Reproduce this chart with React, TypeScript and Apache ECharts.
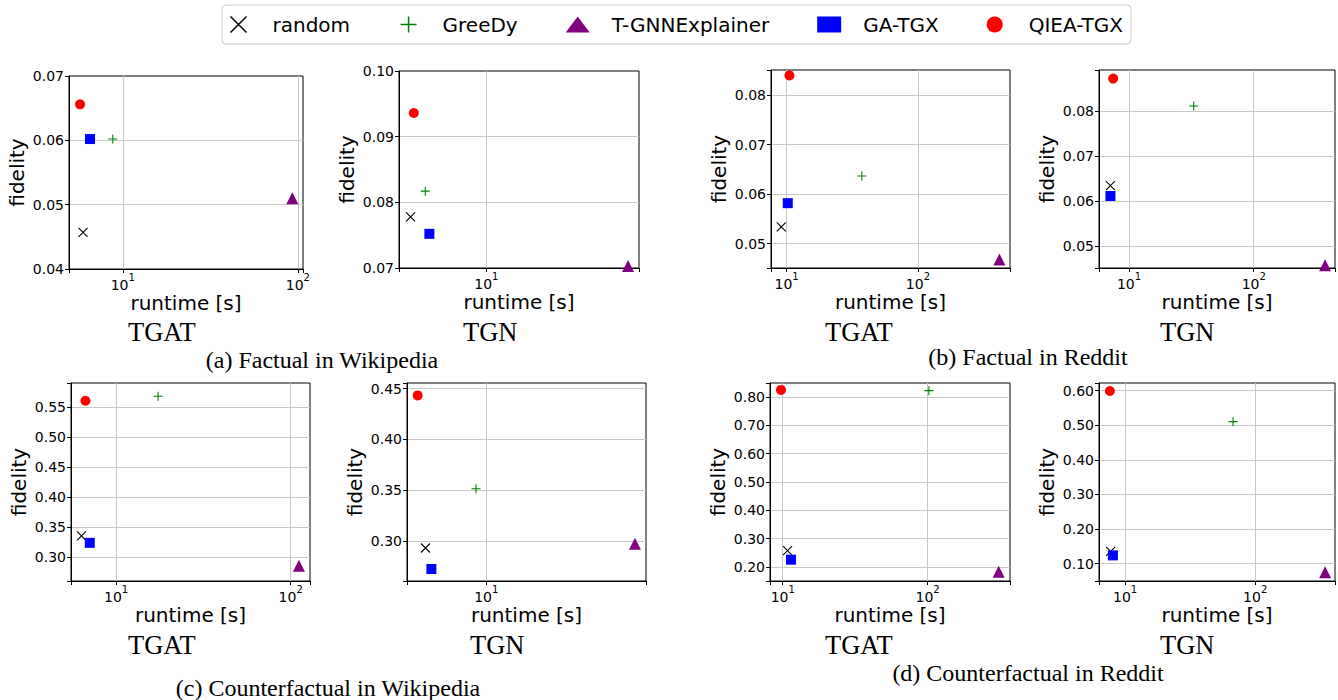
import React, { useEffect, useRef } from 'react';
import * as echarts from 'echarts';

// ---------- data ----------
const methods = ['random', 'GreeDy', 'T-GNNExplainer', 'GA-TGX', 'QIEA-TGX'];
const methodColors = ['#000000', '#008000', '#800080', '#0000ff', '#ff0000'];

// order of every array: random, GreeDy, T-GNNExplainer, GA-TGX, QIEA-TGX
const runtimeFactWikiTGAT = [5.93, 8.77, 93, 6.5, 5.7];
const fidelityFactWikiTGAT = [0.0457, 0.0602, 0.051, 0.0602, 0.0656];
const runtimeFactWikiTGN = [3.52, 4.31, 70.5, 4.56, 3.68];
const fidelityFactWikiTGN = [0.0778, 0.0817, 0.0703, 0.0752, 0.0936];
const runtimeFactRedditTGAT = [9.1, 37.4, 418, 10.2, 10.5];
const fidelityFactRedditTGAT = [0.0534, 0.0637, 0.0468, 0.0582, 0.084];
const runtimeFactRedditTGN = [7.1, 33, 373, 7.1, 7.47];
const fidelityFactRedditTGN = [0.0634, 0.0811, 0.0457, 0.0611, 0.0872];
const runtimeCfWikiTGAT = [6.34, 17.4, 111.5, 7.07, 6.68];
const fidelityCfWikiTGAT = [0.3355, 0.568, 0.286, 0.324, 0.5605];
const runtimeCfWikiTGN = [4.34, 8.69, 77, 4.71, 3.9];
const fidelityCfWikiTGN = [0.2931, 0.3515, 0.2974, 0.2724, 0.4434];
const runtimeCfRedditTGAT = [10.8, 102, 309, 11.4, 9.73];
const fidelityCfRedditTGAT = [0.2577, 0.822, 0.183, 0.2258, 0.8247];
const runtimeCfRedditTGN = [7.74, 67.6, 345, 8.06, 7.64];
const fidelityCfRedditTGN = [0.1356, 0.5104, 0.075, 0.124, 0.599];

const panelRuntimes = [
  runtimeFactWikiTGAT, runtimeFactWikiTGN, runtimeFactRedditTGAT, runtimeFactRedditTGN,
  runtimeCfWikiTGAT, runtimeCfWikiTGN, runtimeCfRedditTGAT, runtimeCfRedditTGN,
];
const panelFidelities = [
  fidelityFactWikiTGAT, fidelityFactWikiTGN, fidelityFactRedditTGAT, fidelityFactRedditTGN,
  fidelityCfWikiTGAT, fidelityCfWikiTGN, fidelityCfRedditTGAT, fidelityCfRedditTGN,
];
const panelModels = ['TGAT', 'TGN', 'TGAT', 'TGN', 'TGAT', 'TGN', 'TGAT', 'TGN'];
const captions = [
  '(a) Factual in Wikipedia',
  '(b) Factual in Reddit',
  '(c) Counterfactual in Wikipedia',
  '(d) Counterfactual in Reddit',
];

// axis ranges
const xRanges = [[4.93, 107], [3.0, 82], [7.6, 503], [5.75, 448], [5.52, 129], [3.37, 89.6], [8.17, 370], [6.3, 411]];
const yRanges = [[0.04, 0.07], [0.07, 0.1], [0.0451, 0.0851], [0.0451, 0.0891], [0.2605, 0.59], [0.2606, 0.4556], [0.1506, 0.849], [0.05, 0.622]];
const yTickSteps = [0.01, 0.01, 0.01, 0.01, 0.05, 0.05, 0.1, 0.1];

// ---------- layout ----------
const gridBoxes = [
  [69, 76, 234, 193],
  [399, 71, 240, 197],
  [771, 70, 239, 198],
  [1099, 70, 238, 198],
  [71, 383, 239, 198],
  [407, 383, 239, 198],
  [770, 383, 240, 198],
  [1099, 383, 238, 198],
];
const modelLabelPos = [
  [128, 332], [463, 332], [825, 332], [1160, 332],
  [128, 645], [470, 645], [825, 645], [1160, 645],
];
const captionPos = [[322, 360], [1028, 357], [328, 688], [1028, 673]];

const SANS = '"DejaVu Sans", sans-serif';
const SERIF = '"Liberation Serif", "Times New Roman", serif';
const X_PATH = 'path://M0,0L10,10M10,0L0,10';
const PLUS_PATH = 'path://M5,0L5,10M0,5L10,5';
const symbols = [X_PATH, PLUS_PATH, 'triangle', 'rect', 'circle'];
const symbolSizes = [9, 9, 12, 10, 10];

function styleFor(i: number, lw: number) {
  if (i < 2) return { color: 'none', borderColor: methodColors[i], borderWidth: lw, opacity: 1 };
  return { color: methodColors[i], borderWidth: 0, opacity: 1 };
}

function buildOption() {
  const grids = gridBoxes.map(([l, t, w, h]) => ({
    left: l, top: t, width: w, height: h,
    show: true, borderColor: '#000', borderWidth: 1, backgroundColor: 'transparent',
  }));

  const xAxes = xRanges.map(([mn, mx], p) => ({
    type: 'log', logBase: 10, gridIndex: p, min: mn, max: mx,
    name: 'runtime [s]', nameLocation: 'middle', nameGap: 21,
    nameTextStyle: { fontFamily: SANS, fontSize: 20, color: '#000' },
    axisLine: { show: true, lineStyle: { color: '#000', width: 1 } },
    axisTick: { show: true, length: 4, lineStyle: { color: '#000' } },
    splitLine: { show: true, showMinLine: false, showMaxLine: false, lineStyle: { color: '#c8c8c8', width: 1 } },
    axisLabel: {
      margin: 3,
      fontFamily: SANS, color: '#000',
      formatter: (v: number) => {
        const l = Math.log10(v);
        const r = Math.round(l);
        if (Math.abs(l - r) > 1e-6) return '';
        return `{b|10}{s|${r}}`;
      },
      rich: {
        b: { fontFamily: SANS, fontSize: 14, color: '#000', lineHeight: 20, verticalAlign: 'bottom' },
        s: { fontFamily: SANS, fontSize: 10, color: '#000', verticalAlign: 'top', lineHeight: 12 },
      },
    },
  }));

  const yAxes = yRanges.map(([mn, mx], p) => ({
    type: 'value', gridIndex: p, min: mn, max: mx,
    splitNumber: Math.round((mx - mn) / yTickSteps[p]),
    name: 'fidelity', nameLocation: 'middle', nameGap: 42, nameRotate: 90,
    nameTextStyle: { fontFamily: SANS, fontSize: 20, color: '#000' },
    axisLine: { show: true, lineStyle: { color: '#000', width: 1 } },
    axisTick: { show: true, length: 4, lineStyle: { color: '#000' } },
    splitLine: { show: true, showMinLine: false, showMaxLine: false, lineStyle: { color: '#c8c8c8', width: 1 } },
    axisLabel: {
      margin: 5, fontFamily: SANS, fontSize: 14, color: '#000',
      formatter: (v: number) => {
        const k = v / yTickSteps[p];
        if (Math.abs(k - Math.round(k)) > 1e-6) return '';
        return v.toFixed(2);
      },
    },
  }));

  const series: any[] = [];
  panelRuntimes.forEach((rt, p) => {
    methods.forEach((m, i) => {
      series.push({
        type: 'scatter', name: m, xAxisIndex: p, yAxisIndex: p,
        data: [[rt[i], panelFidelities[p][i]]],
        symbol: symbols[i], symbolSize: symbolSizes[i],
        itemStyle: styleFor(i, 1.1), clip: false, z: 3 + i,
        emphasis: { disabled: true },
      });
    });
  });

  const graphic: any[] = [];
  panelModels.forEach((t, p) => {
    graphic.push({
      type: 'text', x: modelLabelPos[p][0], y: modelLabelPos[p][1],
      style: { text: t, font: `26.5px ${SERIF}`, fill: '#000', textAlign: 'left', textVerticalAlign: 'middle' },
    });
  });
  captions.forEach((c, k) => {
    graphic.push({
      type: 'text', x: captionPos[k][0], y: captionPos[k][1],
      style: { text: c, font: `24px ${SERIF}`, fill: '#000', textAlign: 'center', textVerticalAlign: 'middle' },
    });
  });

  return {
    animation: false,
    backgroundColor: '#fff',
    legend: {
      left: 222, top: 5, orient: 'horizontal',
      itemWidth: 24, itemHeight: 16, itemGap: 48,
      padding: [9, 8, 9, 6],
      borderColor: '#cccccc', borderWidth: 1, borderRadius: 4,
      textStyle: { fontFamily: SANS, fontSize: 20, color: '#000', padding: [0, 0, 0, 17] },
      data: methods.map((m, i) => ({ name: m, icon: symbols[i], itemStyle: styleFor(i, 1.5) })),
      selectedMode: false,
    },
    grid: grids,
    xAxis: xAxes,
    yAxis: yAxes,
    series,
    graphic,
  };
}

export default function App() {
  const ref = useRef<HTMLDivElement>(null);
  useEffect(() => {
    const chart = echarts.init(ref.current!, null, { renderer: 'svg' });
    chart.setOption(buildOption() as any);
    return () => chart.dispose();
  }, []);
  return (
    <div
      ref={ref}
      style={{ position: 'fixed', left: 0, top: 0, width: 1338, height: 700, background: '#fff' }}
    />
  );
}
